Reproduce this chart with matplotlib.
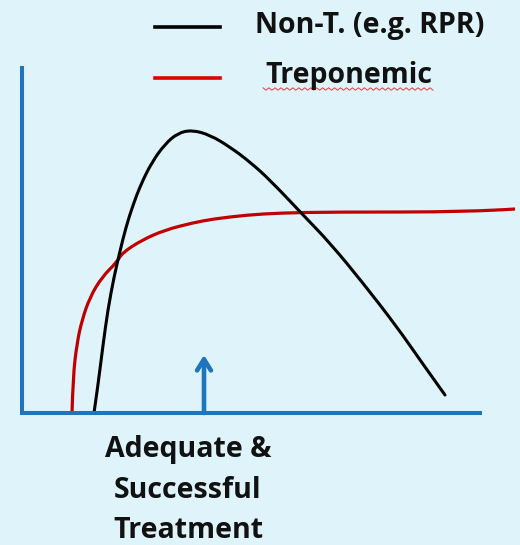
import numpy as np
import matplotlib.pyplot as plt
from matplotlib.path import Path
from matplotlib.patches import PathPatch

# curve shapes (time vs. titer, arbitrary units)
nontrep_t = [72, 76, 81, 86, 92, 98, 104, 111, 119, 130, 143, 156, 170, 188,
             208, 228, 248, 283, 308, 341, 375, 398, 423]
nontrep_y = [0, 28, 68, 104, 136, 162, 186, 208, 229, 251, 269, 280, 283, 278,
             266, 251, 233, 196, 170, 130, 86, 53, 18]

trep_t = [50, 51, 55, 60, 68, 80, 95, 100, 120, 143, 170, 191, 225, 258, 308, 448, 493]
trep_y = [0, 36, 70, 93, 116, 136, 151, 160, 173, 183, 190, 194, 198, 200, 201, 201, 204]

treatment_t = 182
legend_labels = ["Non-T. (e.g. RPR)", "Treponemic"]
treatment_label = "Adequate &\nSuccessful\nTreatment"

bg = "#DEF4FA"
blue = "#1F74BE"


def smooth_path(xs, ys):
    # quadratic segments through midpoints, so the stroke has no corners
    pts = np.column_stack([xs, ys]).astype(float)
    verts = [pts[0]]
    codes = [Path.MOVETO]
    for i in range(1, len(pts) - 1):
        mid = (pts[i] + pts[i + 1]) / 2
        if i == len(pts) - 2:
            mid = pts[i + 1]
        verts += [pts[i], mid]
        codes += [Path.CURVE3, Path.CURVE3]
    return Path(verts, codes)


fig = plt.figure(figsize=(5.2, 5.45), dpi=100, facecolor=bg)
ax = fig.add_axes([22 / 520, 132 / 545, 458 / 520, 345 / 545])
ax.set_facecolor(bg)
ax.set_xlim(0, 458)
ax.set_ylim(0, 345)

for s in ["top", "right"]:
    ax.spines[s].set_visible(False)
for s in ["left", "bottom"]:
    ax.spines[s].set_color(blue)
    ax.spines[s].set_linewidth(2.9)
ax.set_xticks([])
ax.set_yticks([])

ax.add_patch(PathPatch(smooth_path(trep_t, trep_y), fill=False, edgecolor="#C00000",
                       lw=2.3, clip_on=False, capstyle="butt"))
ax.add_patch(PathPatch(smooth_path(nontrep_t, nontrep_y), fill=False, edgecolor="black",
                       lw=2.2, clip_on=False, capstyle="round"))

# arrow marking treatment
ax.annotate("", xy=(treatment_t, 58), xytext=(treatment_t, 0),
            arrowprops=dict(arrowstyle="->,head_length=0.8,head_width=0.5",
                            color=blue, lw=3.3, shrinkA=0, shrinkB=0))

# legend drawn by hand like the slide
font = "Open Sans"
ax.plot([133, 198], [386, 386], color="black", lw=2.6, clip_on=False)
ax.plot([133, 198], [335, 335], color="#E00000", lw=2.6, clip_on=False)
ax.text(233, 387, legend_labels[0], fontsize=20.5, fontweight="bold",
        family=font, va="center", ha="left", color="#111111")
ax.text(243, 338, legend_labels[1], fontsize=20.5, fontweight="bold",
        family=font, va="center", ha="left", color="#111111")

# spell-check squiggle under "Treponemic"
sq_x = np.linspace(241, 411, 58)
sq_y = 324 + 1.2 * np.where(np.arange(58) % 2 == 0, 1, -1)
ax.plot(sq_x, sq_y, color="#E04040", lw=0.7, clip_on=False)

ax.text(166, -77, treatment_label, fontsize=20.5, fontweight="bold",
        family=font, va="center", ha="center", color="#111111",
        linespacing=1.5)

fig.savefig("out.png", dpi=100, facecolor=bg)
